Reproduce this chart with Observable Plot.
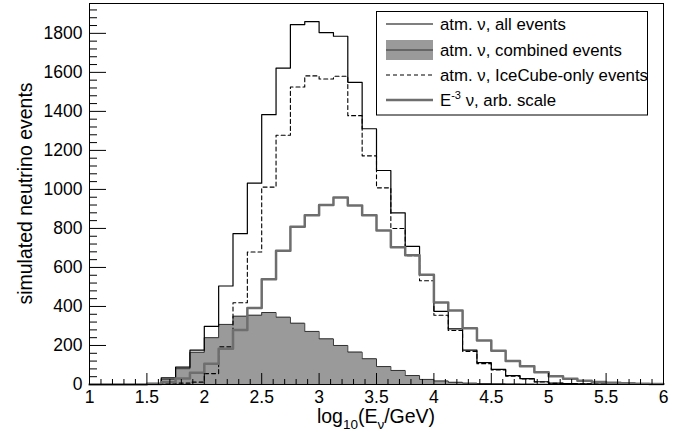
<!DOCTYPE html>
<html><head><meta charset="utf-8">
<script src="https://cdn.jsdelivr.net/npm/d3@7"></script>
<script src="https://cdn.jsdelivr.net/npm/@observablehq/plot@0.6"></script>
<style>
html,body{margin:0;padding:0;background:#fff;}
svg{display:block;}
</style>
</head><body>
<div id="chart"></div>
<script>
// Bin edges of log10(E/GeV), 40 bins from 1 to 6
const binEdges = [1.0,1.125,1.25,1.375,1.5,1.625,1.75,1.875,2.0,2.125,2.25,2.375,2.5,2.625,2.75,2.875,
  3.0,3.125,3.25,3.375,3.5,3.625,3.75,3.875,4.0,4.125,4.25,4.375,4.5,4.625,4.75,4.875,
  5.0,5.125,5.25,5.375,5.5,5.625,5.75,5.875,6.0];

// atm. nu, all events
const allEvents = [0,0,0,0,6,34,89,176,298,505,773,1032,1383,1622,1845,1860,
  1804,1785,1549,1311,1097,880,708,562,375,285,176,112,78,46,30,14,
  7,4,3,2,1,1,0,0];
// atm. nu, combined events
const combinedEvents = [0,0,0,0,5,27,81,165,240,308,350,355,369,345,314,272,
  234,200,166,132,92,72,46,26,18,11,7,5,4,3,2,1,
  1,0,0,0,0,0,0,0];
// atm. nu, IceCube-only events
const iceCubeOnly = [0,0,0,0,0,3,7,12,56,193,419,679,1012,1278,1525,1582,
  1566,1580,1378,1172,1008,800,660,532,355,277,170,107,74,43,28,13,
  6,4,3,2,1,1,0,0];
// E^-3 nu, arb. scale
const eMinus3 = [0,0,0,0,3,12,31,60,106,183,280,392,540,686,809,867,
  920,958,918,867,790,704,662,562,420,379,288,225,173,120,93,63,
  42,29,19,13,9,6,4,2];

const xMajorTicks = [1,1.5,2,2.5,3,3.5,4,4.5,5,5.5,6];
const xMinorTicks = [1.1,1.2,1.3,1.4,1.6,1.7,1.8,1.9,2.1,2.2,2.3,2.4,2.6,2.7,2.8,2.9,3.1,3.2,3.3,3.4,
  3.6,3.7,3.8,3.9,4.1,4.2,4.3,4.4,4.6,4.7,4.8,4.9,5.1,5.2,5.3,5.4,5.6,5.7,5.8,5.9];
const yMajorTicks = [0,200,400,600,800,1000,1200,1400,1600,1800];
const yMinorTicks = [40,80,120,160,240,280,320,360,440,480,520,560,640,680,720,760,840,880,920,960,
  1040,1080,1120,1160,1240,1280,1320,1360,1440,1480,1520,1560,1640,1680,1720,1760,1840,1880,1920];

function steps(values) {
  return values.flatMap((v, i) => [{x: binEdges[i], y: v}, {x: binEdges[i + 1], y: v}]);
}

const FONT = "'Liberation Sans', Arial, Helvetica, sans-serif";

const plot = Plot.plot({
  width: 694, height: 436,
  marginLeft: 89, marginRight: 31, marginTop: 3, marginBottom: 52,
  x: {domain: [1, 6]},
  y: {domain: [0, 1953]},
  style: {fontFamily: FONT, fontSize: "17.5px", color: "#000", background: "#fff"},
  marks: [
    Plot.areaY(steps(combinedEvents), {x: "x", y1: 0, y2: "y", fill: "#9a9a9a"}),
    Plot.line(steps(combinedEvents), {x: "x", y: "y", stroke: "#333", strokeWidth: 1}),
    Plot.line(steps(allEvents), {x: "x", y: "y", stroke: "#000", strokeWidth: 1.2}),
    Plot.line(steps(iceCubeOnly), {x: "x", y: "y", stroke: "#000", strokeWidth: 1.1, strokeDasharray: "4,3"}),
    Plot.line(steps(eMinus3), {x: "x", y: "y", stroke: "#6e6e6e", strokeWidth: 2.5}),
    Plot.axisX({ticks: xMinorTicks, tickSize: -5, text: null, label: null}),
    Plot.axisX({ticks: xMajorTicks, tickSize: -11, tickPadding: 17, tickFormat: d => String(d), label: null}),
    Plot.axisY({ticks: yMinorTicks, tickSize: -8, text: null, label: null}),
    Plot.axisY({ticks: yMajorTicks, tickSize: -17, tickPadding: 24, tickFormat: d => String(d), label: null}),
    Plot.frame({stroke: "#000"})
  ]
});

document.getElementById("chart").appendChild(plot);

const svg = d3.select(plot);
// Axis titles
svg.append("text")
  .attr("transform", "translate(32,193.5) rotate(-90)")
  .attr("text-anchor", "middle")
  .style("font-family", FONT).style("font-size", "19.5px").attr("fill", "#000")
  .text("simulated neutrino events");

const xt = svg.append("text")
  .attr("x", 376).attr("y", 423)
  .attr("text-anchor", "middle")
  .style("font-family", FONT).style("font-size", "19.5px").attr("fill", "#000");
xt.append("tspan").text("log");
xt.append("tspan").attr("dy", 6).style("font-size", "13.5px").text("10");
xt.append("tspan").attr("dy", -6).text("(E");
xt.append("tspan").attr("dy", 6).style("font-size", "13.5px").text("ν");
xt.append("tspan").attr("dy", -6).text("/GeV)");

// Legend
const lg = svg.append("g").attr("text-anchor", "start");
lg.append("rect").attr("x", 376.5).attr("y", 11.5).attr("width", 271).attr("height", 103.5)
  .attr("fill", "#fff").attr("stroke", "#000").attr("stroke-width", 1);
const lx1 = 386, lx2 = 433, tx = 440;
const rows = [24, 50, 75, 100];
lg.append("line").attr("x1", lx1).attr("x2", lx2).attr("y1", rows[0]).attr("y2", rows[0]).attr("stroke", "#000").attr("stroke-width", 1.2);
lg.append("rect").attr("x", lx1).attr("y", rows[1] - 10).attr("width", lx2 - lx1).attr("height", 20).attr("fill", "#9a9a9a");
lg.append("line").attr("x1", lx1).attr("x2", lx2).attr("y1", rows[1]).attr("y2", rows[1]).attr("stroke", "#333").attr("stroke-width", 1.2);
lg.append("line").attr("x1", lx1).attr("x2", lx2).attr("y1", rows[2]).attr("y2", rows[2]).attr("stroke", "#000").attr("stroke-width", 1.1).attr("stroke-dasharray", "4,3");
lg.append("line").attr("x1", lx1).attr("x2", lx2).attr("y1", rows[3]).attr("y2", rows[3]).attr("stroke", "#6e6e6e").attr("stroke-width", 2.5);

const labels = ["atm. ν, all events", "atm. ν, combined events", "atm. ν, IceCube-only events"];
labels.forEach((t, i) => {
  lg.append("text").attr("x", tx).attr("y", rows[i]).attr("dy", "0.36em").attr("text-anchor", "start")
    .style("font-family", FONT).style("font-size", "16.8px").attr("fill", "#000").text(t);
});
const t4 = lg.append("text").attr("x", tx).attr("y", rows[3]).attr("dy", "0.36em").attr("text-anchor", "start")
  .style("font-family", FONT).style("font-size", "16.8px").attr("fill", "#000");
t4.append("tspan").text("E");
t4.append("tspan").attr("dy", -7).style("font-size", "11px").text("-3");
t4.append("tspan").attr("dy", 7).text(" ν, arb. scale");
</script>
</body></html>
